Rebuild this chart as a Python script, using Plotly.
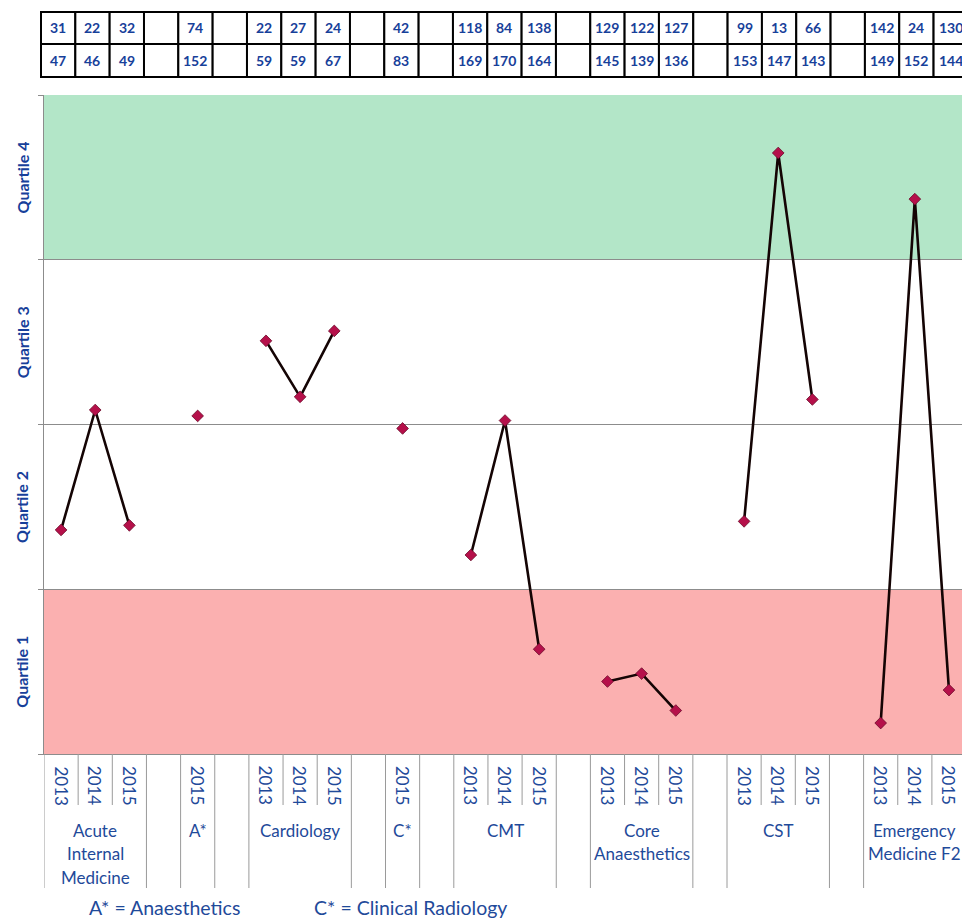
import plotly.graph_objects as go

# ---------------- data ----------------
group_labels = [["Acute", "Internal", "Medicine"], [], ["A*"], [], ["Cardiology"], [], ["C*"], [],
                ["CMT"], [], ["Core", "Anaesthetics"], [], ["CST"], [], ["Emergency", "Medicine F2"]]
group_years = [["2013", "2014", "2015"], [""], ["2015"], [""], ["2013", "2014", "2015"], [""], ["2015"], [""],
               ["2013", "2014", "2015"], [""], ["2013", "2014", "2015"], [""], ["2013", "2014", "2015"], [""],
               ["2013", "2014", "2015"]]

# percentile position (0 = bottom of Quartile 1, 1 = top of Quartile 4), one per slot
position = [0.340, 0.522, 0.347, None, 0.513, None, 0.627, 0.542, 0.642, None, 0.494, None,
            0.302, 0.506, 0.159, None, 0.110, 0.122, 0.066, None, 0.353, 0.912, 0.538, None,
            0.047, 0.842, 0.097]
rank_row = [31, 22, 32, None, 74, None, 22, 27, 24, None, 42, None, 118, 84, 138, None,
            129, 122, 127, None, 99, 13, 66, None, 142, 24, 130]
total_row = [47, 46, 49, None, 152, None, 59, 59, 67, None, 83, None, 169, 170, 164, None,
             145, 139, 136, None, 153, 147, 143, None, 149, 152, 144]
quartile_names = ["Quartile 1", "Quartile 2", "Quartile 3", "Quartile 4"]
footnotes = ["A* = Anaesthetics", "C* = Clinical Radiology"]

# ---------------- layout constants (page pixels) ----------------
W, H = 962, 919
PLOT_L, PLOT_T, PLOT_B, PLOT_R = 44, 95, 754, 962
ML, MT = PLOT_L, PLOT_T
MB = H - PLOT_B
MR = W - PLOT_R
PH = PLOT_B - PLOT_T
PW = PLOT_R - PLOT_L
SLOT = 34.15
XMAX = -0.5 + PW / SLOT

BLUE = "#1F4A9A"
BLUE_B = "#17409A"
FONT = "Lato"
GRAY = "#8c8c8c"


def py(px):  # page pixel y -> paper y
    return (PLOT_B - px) / PH


def pxx(px):  # page pixel x -> paper x
    return (px - PLOT_L) / PW


# build slots
slot_year, slot_group = [], []
for gi, yrs in enumerate(group_years):
    for y in yrs:
        slot_year.append(y)
        slot_group.append(gi)
n = len(slot_year)
xs = list(range(n))

# line trace: break between groups
line_x, line_y = [], []
for i in range(n):
    if i > 0 and slot_group[i] != slot_group[i - 1]:
        line_x.append(None)
        line_y.append(None)
    line_x.append(xs[i])
    line_y.append(position[i])

fig = go.Figure()
fig.add_trace(go.Scatter(x=line_x, y=line_y, mode="lines", line=dict(color="#140404", width=2.6),
                         connectgaps=False, hoverinfo="skip", showlegend=False))
fig.add_trace(go.Scatter(x=xs, y=position, mode="markers",
                         marker=dict(symbol="diamond", size=9, color="#B5104A",
                                     line=dict(color="#6b0a2a", width=0.8)),
                         showlegend=False))

shapes = []
# quartile bands
shapes.append(dict(type="rect", xref="paper", yref="y", x0=0, x1=1, y0=0.75, y1=1.0,
                   fillcolor="#B3E6C8", line_width=0, layer="below"))
shapes.append(dict(type="rect", xref="paper", yref="y", x0=0, x1=1, y0=0.0, y1=0.25,
                   fillcolor="#FBB0B0", line_width=0, layer="below"))

# separators below x axis
for b in range(n + 1):
    xb = b - 0.5
    left_g = slot_group[b - 1] if b > 0 else None
    right_g = slot_group[b] if b < n else None
    long_line = left_g != right_g
    shapes.append(dict(type="line", xref="x", yref="paper", x0=xb, x1=xb, y0=0,
                       y1=py(888) if long_line else py(805), line=dict(color="#9a9a9a", width=1)))

# table
CELL_X0, CELL_W = 41, 34.33
row_edges = [12, 44, 77]
for k in range(n):
    for r in range(2):
        shapes.append(dict(type="rect", xref="paper", yref="paper",
                           x0=pxx(CELL_X0 + k * CELL_W), x1=pxx(CELL_X0 + (k + 1) * CELL_W),
                           y0=py(row_edges[r + 1]), y1=py(row_edges[r]),
                           line=dict(color="black", width=2), fillcolor="white"))

annotations = []
for k in range(n):
    for r, row in enumerate([rank_row, total_row]):
        if row[k] is not None:
            annotations.append(dict(text=f"<b>{row[k]}</b>", xref="paper", yref="paper",
                                    x=pxx(CELL_X0 + (k + 0.5) * CELL_W),
                                    y=py((row_edges[r] + row_edges[r + 1]) / 2),
                                    xanchor="center", yanchor="middle",
                                    showarrow=False, font=dict(family=FONT, size=14, color=BLUE_B)))
    if slot_year[k]:
        annotations.append(dict(text=slot_year[k], xref="x", yref="paper", x=xs[k], y=py(764),
                                yanchor="top", xanchor="center", textangle=90, showarrow=False,
                                font=dict(family=FONT, size=17, color=BLUE)))

# group labels
start = 0
for gi, yrs in enumerate(group_years):
    center = start + (len(yrs) - 1) / 2
    for li, txt in enumerate(group_labels[gi]):
        annotations.append(dict(text=txt, xref="x", yref="paper", x=center, y=py(830 + li * 23.5),
                                xanchor="center", yanchor="middle",
                                showarrow=False, font=dict(family=FONT, size=17, color=BLUE)))
    start += len(yrs)

# quartile labels
for qi, q in enumerate(quartile_names):
    annotations.append(dict(text=f"<b>{q}</b>", xref="paper", yref="y", x=pxx(22), y=0.125 + 0.25 * qi,
                            xanchor="center", yanchor="middle",
                            textangle=-90, showarrow=False, font=dict(family=FONT, size=16, color=BLUE_B)))

# footnotes
for txt, cx in zip(footnotes, [164, 410.5]):
    annotations.append(dict(text=txt, xref="paper", yref="paper", x=pxx(cx), y=py(907),
                            xanchor="center", yanchor="middle",
                            showarrow=False, font=dict(family=FONT, size=19.5, color=BLUE)))

fig.update_layout(
    width=W, height=H, margin=dict(l=ML, r=MR, t=MT, b=MB, pad=0),
    paper_bgcolor="white", plot_bgcolor="white",
    shapes=shapes, annotations=annotations,
    xaxis=dict(range=[-0.5, XMAX], showticklabels=False, showgrid=False, zeroline=False,
               showline=True, linecolor=GRAY, linewidth=1, ticks=""),
    yaxis=dict(range=[0, 1], tickvals=[0, 0.25, 0.5, 0.75, 1], showticklabels=False,
               showgrid=True, gridcolor=GRAY, gridwidth=1, zeroline=False,
               showline=True, linecolor=GRAY, linewidth=1, ticks="outside", ticklen=5, tickcolor=GRAY),
)

fig.write_html("out.html", config={"displayModeBar": False},
               post_script="document.body.style.margin='0';document.body.style.overflow='hidden';")
